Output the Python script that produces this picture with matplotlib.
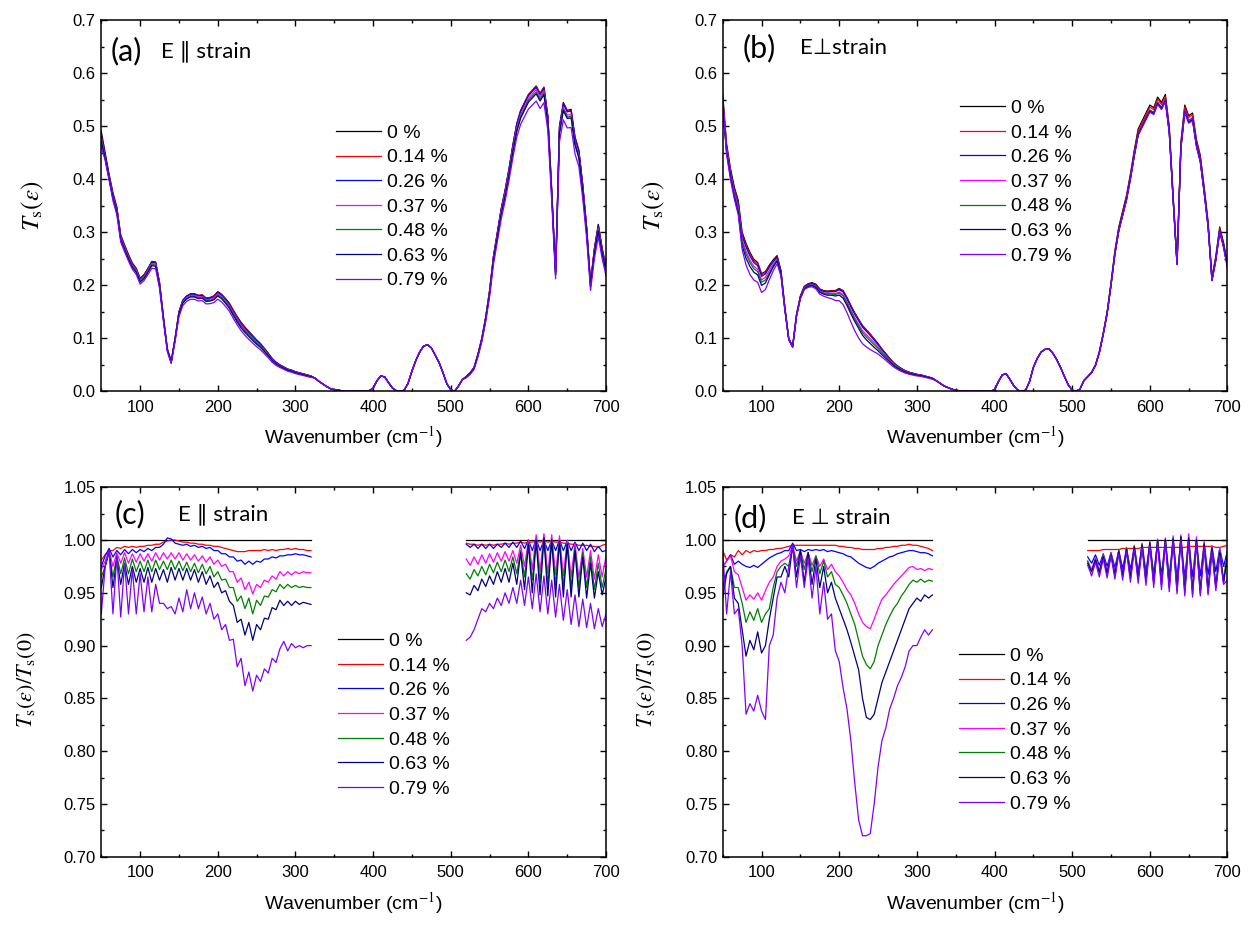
import numpy as np
import matplotlib.pyplot as plt
from matplotlib.ticker import MultipleLocator, FormatStrFormatter

plt.rcParams['font.family'] = ['Liberation Sans', 'DejaVu Sans']
plt.rcParams['mathtext.fontset'] = 'stix'

strains = ['0 %', '0.14 %', '0.26 %', '0.37 %', '0.48 %', '0.63 %', '0.79 %']
colors = ['#000000', '#ff0000', '#0000ff', '#ff00ff', '#008000', '#000080', '#8000ff']

# wavenumber grids (cm-1)
wn = np.arange(50, 705, 5)
wn_left = np.arange(50, 325, 5)
wn_right = np.arange(520, 705, 5)

# Ts(0), E || strain
t0_par = [
    0.490, 0.450, 0.410, 0.375, 0.348, 0.295, 0.276, 0.258, 0.242, 0.232,   # 50
    0.213, 0.220, 0.232, 0.245, 0.244, 0.205, 0.140, 0.080, 0.056, 0.100,   # 100
    0.150, 0.172, 0.180, 0.184, 0.184, 0.181, 0.182, 0.176, 0.177, 0.180,   # 150
    0.188, 0.183, 0.175, 0.166, 0.153, 0.141, 0.130, 0.121, 0.113, 0.105,   # 200
    0.097, 0.090, 0.081, 0.072, 0.062, 0.055, 0.050, 0.046, 0.042, 0.040,   # 250
    0.037, 0.035, 0.033, 0.031, 0.029, 0.025, 0.019, 0.014, 0.009, 0.005,   # 300
    0.003, 0.002, 0.001, 0.000, 0.000, 0.000, 0.000, 0.000, 0.000, 0.001,   # 350
    0.006, 0.020, 0.029, 0.027, 0.016, 0.006, 0.001, 0.000, 0.002, 0.015,   # 400
    0.038, 0.058, 0.074, 0.085, 0.088, 0.082, 0.068, 0.054, 0.035, 0.014,   # 450
    0.003, 0.000, 0.010, 0.022, 0.028, 0.035, 0.045, 0.070, 0.100, 0.140,   # 500
    0.190, 0.255, 0.300, 0.345, 0.380, 0.420, 0.465, 0.505, 0.530, 0.545,   # 550
    0.560, 0.568, 0.576, 0.562, 0.574, 0.520, 0.380, 0.225, 0.500, 0.545,   # 600
    0.530, 0.532, 0.480, 0.455, 0.390, 0.310, 0.205, 0.270, 0.315, 0.270,   # 650
    0.235,                                                                  # 700
]

# Ts(0), E perp strain
t0_perp = [
    0.560, 0.467, 0.420, 0.385, 0.360, 0.300, 0.279, 0.262, 0.249, 0.243,
    0.222, 0.226, 0.238, 0.248, 0.256, 0.228, 0.159, 0.100, 0.085, 0.145,
    0.180, 0.198, 0.203, 0.205, 0.202, 0.193, 0.190, 0.189, 0.190, 0.190,
    0.194, 0.190, 0.177, 0.162, 0.148, 0.136, 0.124, 0.116, 0.108, 0.099,
    0.090, 0.080, 0.071, 0.062, 0.054, 0.048, 0.043, 0.039, 0.036, 0.034,
    0.032, 0.031, 0.029, 0.027, 0.025, 0.020, 0.015, 0.010, 0.007, 0.004,
    0.002, 0.001, 0.000, 0.000, 0.000, 0.000, 0.000, 0.000, 0.000, 0.000,
    0.003, 0.018, 0.031, 0.033, 0.022, 0.010, 0.002, 0.000, 0.002, 0.018,
    0.045, 0.062, 0.074, 0.079, 0.080, 0.072, 0.060, 0.045, 0.028, 0.012,
    0.002, 0.000, 0.004, 0.020, 0.028, 0.036, 0.050, 0.075, 0.110, 0.150,
    0.205, 0.265, 0.310, 0.340, 0.370, 0.410, 0.455, 0.495, 0.510, 0.525,
    0.540, 0.535, 0.555, 0.545, 0.560, 0.500, 0.370, 0.245, 0.470, 0.540,
    0.520, 0.525, 0.475, 0.445, 0.385, 0.320, 0.215, 0.255, 0.310, 0.280,
    0.240,
]

# Ts(e)/Ts(0), E || strain, 50-320 cm-1
c_left_014 = [
    0.981, 0.986, 0.990, 0.990, 0.993, 0.992, 0.994, 0.993, 0.994, 0.993,
    0.994, 0.994, 0.995, 0.995, 0.996, 0.996, 0.998, 0.999, 1.000, 1.000,
    0.999, 0.998, 0.998, 0.997, 0.997, 0.996, 0.996, 0.995, 0.995, 0.994,
    0.994, 0.993, 0.992, 0.991, 0.990, 0.989, 0.989, 0.989, 0.990, 0.990,
    0.990, 0.990, 0.991, 0.990, 0.991, 0.990, 0.991, 0.991, 0.992, 0.991,
    0.992, 0.991, 0.991, 0.990, 0.990,
]
c_left_026 = [
    0.975, 0.985, 0.992, 0.984, 0.990, 0.986, 0.991, 0.987, 0.991, 0.988,
    0.991, 0.989, 0.992, 0.990, 0.993, 0.993, 0.996, 1.002, 1.001, 0.997,
    0.996, 0.995, 0.996, 0.994, 0.995, 0.993, 0.994, 0.992, 0.993, 0.990,
    0.990, 0.987, 0.987, 0.984, 0.984, 0.980, 0.981, 0.977, 0.980, 0.977,
    0.980, 0.979, 0.982, 0.982, 0.984, 0.983, 0.985, 0.985, 0.986, 0.986,
    0.987, 0.986, 0.986, 0.985, 0.984,
]
c_left_037 = [
    0.972, 0.980, 0.990, 0.975, 0.988, 0.978, 0.988, 0.978, 0.987, 0.979,
    0.987, 0.980, 0.987, 0.980, 0.988, 0.981, 0.988, 0.982, 0.988, 0.982,
    0.988, 0.981, 0.987, 0.981, 0.986, 0.980, 0.985, 0.979, 0.984, 0.977,
    0.981, 0.975, 0.977, 0.970, 0.970, 0.960, 0.964, 0.953, 0.960, 0.949,
    0.958, 0.955, 0.962, 0.960, 0.966, 0.963, 0.970, 0.966, 0.970, 0.967,
    0.970, 0.968, 0.970, 0.969, 0.969,
]
c_left_048 = [
    0.965, 0.975, 0.988, 0.965, 0.985, 0.968, 0.983, 0.968, 0.982, 0.970,
    0.980, 0.970, 0.981, 0.970, 0.981, 0.972, 0.980, 0.972, 0.981, 0.972,
    0.980, 0.971, 0.979, 0.970, 0.978, 0.969, 0.977, 0.968, 0.975, 0.965,
    0.970, 0.962, 0.963, 0.955, 0.955, 0.942, 0.947, 0.935, 0.945, 0.930,
    0.943, 0.938, 0.947, 0.946, 0.953, 0.951, 0.958, 0.954, 0.958, 0.955,
    0.957, 0.955, 0.956, 0.955, 0.955,
]
c_left_063 = [
    0.955, 0.975, 0.990, 0.955, 0.982, 0.958, 0.978, 0.958, 0.975, 0.960,
    0.973, 0.960, 0.974, 0.960, 0.973, 0.962, 0.972, 0.960, 0.974, 0.962,
    0.973, 0.962, 0.973, 0.962, 0.972, 0.960, 0.970, 0.958, 0.966, 0.955,
    0.960, 0.950, 0.952, 0.942, 0.938, 0.922, 0.925, 0.910, 0.922, 0.905,
    0.920, 0.915, 0.926, 0.925, 0.936, 0.934, 0.943, 0.938, 0.942, 0.938,
    0.942, 0.939, 0.941, 0.940, 0.939,
]
c_left_079 = [
    0.930, 0.975, 0.990, 0.930, 0.985, 0.927, 0.978, 0.930, 0.972, 0.930,
    0.968, 0.932, 0.965, 0.932, 0.958, 0.940, 0.940, 0.935, 0.937, 0.930,
    0.945, 0.932, 0.953, 0.935, 0.950, 0.935, 0.946, 0.930, 0.940, 0.925,
    0.930, 0.915, 0.920, 0.905, 0.906, 0.880, 0.888, 0.862, 0.875, 0.857,
    0.872, 0.866, 0.878, 0.874, 0.888, 0.884, 0.897, 0.904, 0.895, 0.902,
    0.898, 0.900, 0.898, 0.900, 0.900,
]

# Ts(e)/Ts(0), E || strain, 520-700 cm-1
c_right_014 = [
    0.997, 0.996, 0.996, 0.995, 0.996, 0.995, 0.996, 0.995, 0.996, 0.996,
    0.997, 0.996, 0.997, 0.997, 0.998, 0.997, 0.998, 0.998, 0.999, 0.998,
    0.999, 0.998, 0.999, 0.998, 0.998, 0.997, 0.997, 0.996, 0.996, 0.995,
    0.995, 0.995, 0.994, 0.994, 0.993, 0.995, 0.996,
]
c_right_026 = [
    0.996, 0.993, 0.996, 0.992, 0.996, 0.992, 0.996, 0.992, 0.996, 0.993,
    0.997, 0.993, 0.998, 0.993, 0.999, 0.992, 1.000, 0.990, 1.001, 0.990,
    1.000, 0.990, 1.000, 0.990, 1.000, 0.990, 0.999, 0.990, 0.998, 0.990,
    0.997, 0.990, 0.996, 0.989, 0.994, 0.989, 0.990,
]
c_right_037 = [
    0.982, 0.976, 0.984, 0.977, 0.986, 0.978, 0.987, 0.979, 0.988, 0.980,
    0.989, 0.980, 0.990, 0.978, 0.995, 0.975, 1.000, 0.972, 1.005, 0.970,
    1.006, 0.968, 1.005, 0.967, 1.004, 0.966, 1.000, 0.965, 0.997, 0.964,
    0.992, 0.965, 0.990, 0.963, 0.986, 0.965, 0.985,
]
c_right_048 = [
    0.968, 0.963, 0.972, 0.966, 0.975, 0.967, 0.977, 0.969, 0.979, 0.970,
    0.981, 0.970, 0.984, 0.968, 0.990, 0.965, 0.997, 0.962, 1.000, 0.960,
    1.002, 0.958, 1.001, 0.957, 0.999, 0.956, 0.997, 0.955, 0.993, 0.955,
    0.988, 0.955, 0.984, 0.953, 0.978, 0.955, 0.973,
]
c_right_063 = [
    0.950, 0.948, 0.957, 0.952, 0.963, 0.956, 0.966, 0.958, 0.970, 0.960,
    0.973, 0.960, 0.978, 0.958, 0.988, 0.953, 0.996, 0.950, 1.000, 0.948,
    1.002, 0.947, 1.000, 0.946, 0.999, 0.946, 0.996, 0.946, 0.990, 0.946,
    0.984, 0.945, 0.978, 0.945, 0.970, 0.948, 0.965,
]
c_right_079 = [
    0.905, 0.908, 0.915, 0.925, 0.935, 0.932, 0.940, 0.935, 0.945, 0.938,
    0.950, 0.940, 0.955, 0.940, 0.962, 0.938, 0.965, 0.935, 0.968, 0.932,
    0.966, 0.930, 0.962, 0.927, 0.958, 0.924, 0.953, 0.920, 0.948, 0.918,
    0.944, 0.917, 0.940, 0.916, 0.935, 0.918, 0.930,
]

# Ts(e)/Ts(0), E perp strain, 50-320 cm-1
d_left_014 = [
    0.990, 0.981, 0.986, 0.984, 0.990, 0.986, 0.990, 0.988, 0.990, 0.989,
    0.990, 0.990, 0.991, 0.991, 0.992, 0.992, 0.993, 0.994, 0.995, 0.995,
    0.995, 0.995, 0.995, 0.995, 0.995, 0.995, 0.995, 0.995, 0.995, 0.995,
    0.994, 0.994, 0.993, 0.993, 0.992, 0.992, 0.991, 0.991, 0.991, 0.991,
    0.992, 0.992, 0.993, 0.993, 0.994, 0.994, 0.995, 0.995, 0.996, 0.995,
    0.995, 0.994, 0.993, 0.992, 0.990,
]
d_left_026 = [
    0.975, 0.980, 0.986, 0.977, 0.980, 0.977, 0.975, 0.974, 0.976, 0.974,
    0.977, 0.980, 0.983, 0.985, 0.987, 0.988, 0.990, 0.990, 0.997, 0.990,
    0.991, 0.989, 0.991, 0.990, 0.991, 0.990, 0.991, 0.989, 0.990, 0.989,
    0.988, 0.987, 0.985, 0.984, 0.981, 0.978, 0.976, 0.974, 0.973, 0.975,
    0.978, 0.980, 0.982, 0.984, 0.985, 0.987, 0.988, 0.989, 0.990, 0.990,
    0.989, 0.988, 0.988, 0.987, 0.985,
]
d_left_037 = [
    0.975, 0.980, 0.985, 0.970, 0.967, 0.955, 0.943, 0.948, 0.944, 0.950,
    0.943, 0.952, 0.960, 0.965, 0.975, 0.980, 0.982, 0.985, 0.995, 0.980,
    0.990, 0.978, 0.988, 0.976, 0.985, 0.975, 0.982, 0.972, 0.977, 0.970,
    0.966, 0.960, 0.953, 0.948, 0.940, 0.930, 0.922, 0.918, 0.916, 0.925,
    0.935, 0.944, 0.948, 0.953, 0.958, 0.962, 0.966, 0.970, 0.974, 0.975,
    0.972, 0.973, 0.971, 0.973, 0.972,
]
d_left_048 = [
    0.955, 0.970, 0.975, 0.955, 0.955, 0.940, 0.922, 0.932, 0.924, 0.935,
    0.922, 0.930, 0.935, 0.955, 0.970, 0.975, 0.978, 0.975, 0.992, 0.975,
    0.990, 0.972, 0.988, 0.970, 0.985, 0.968, 0.980, 0.965, 0.970, 0.958,
    0.955, 0.948, 0.940, 0.930, 0.920, 0.905, 0.890, 0.882, 0.878, 0.885,
    0.900, 0.910, 0.920, 0.928, 0.935, 0.940, 0.947, 0.952, 0.958, 0.962,
    0.960, 0.963, 0.960, 0.962, 0.961,
]
d_left_063 = [
    0.945, 0.968, 0.975, 0.945, 0.940, 0.915, 0.890, 0.905, 0.896, 0.913,
    0.893, 0.900, 0.925, 0.945, 0.965, 0.965, 0.975, 0.965, 0.995, 0.965,
    0.990, 0.960, 0.988, 0.958, 0.982, 0.955, 0.975, 0.950, 0.960, 0.945,
    0.935, 0.925, 0.915, 0.903, 0.890, 0.877, 0.850, 0.832, 0.830, 0.835,
    0.850, 0.865, 0.875, 0.885, 0.895, 0.905, 0.915, 0.925, 0.935, 0.940,
    0.945, 0.942, 0.948, 0.945, 0.948,
]
d_left_079 = [
    0.990, 0.930, 0.970, 0.930, 0.935, 0.900, 0.835, 0.845, 0.838, 0.853,
    0.838, 0.830, 0.900, 0.910, 0.945, 0.960, 0.950, 0.975, 0.995, 0.955,
    0.985, 0.955, 0.983, 0.945, 0.975, 0.930, 0.960, 0.925, 0.930, 0.895,
    0.885, 0.860, 0.840, 0.810, 0.770, 0.735, 0.720, 0.720, 0.722, 0.750,
    0.785, 0.810, 0.822, 0.840, 0.850, 0.862, 0.870, 0.880, 0.895, 0.900,
    0.900, 0.908, 0.915, 0.910, 0.915,
]

# Ts(e)/Ts(0), E perp strain, 520-700 cm-1
d_right_014 = [
    0.990, 0.990, 0.990, 0.990, 0.991, 0.991, 0.991, 0.991, 0.991, 0.992,
    0.992, 0.992, 0.992, 0.992, 0.993, 0.993, 0.993, 0.993, 0.993, 0.993,
    0.993, 0.993, 0.993, 0.993, 0.993, 0.993, 0.994, 0.994, 0.994, 0.994,
    0.994, 0.994, 0.994, 0.993, 0.993, 0.994, 0.995,
]
d_right_026 = [
    0.984, 0.978, 0.986, 0.976, 0.987, 0.975, 0.988, 0.974, 0.990, 0.973,
    0.992, 0.972, 0.994, 0.970, 0.996, 0.970, 0.997, 0.968, 0.998, 0.967,
    0.999, 0.966, 1.000, 0.965, 1.000, 0.965, 1.000, 0.965, 0.999, 0.966,
    0.997, 0.967, 0.994, 0.970, 0.992, 0.975, 0.990,
]
d_right_037 = [
    0.980, 0.972, 0.983, 0.971, 0.986, 0.970, 0.988, 0.969, 0.990, 0.968,
    0.993, 0.966, 0.995, 0.965, 0.997, 0.963, 0.999, 0.962, 1.001, 0.960,
    1.002, 0.958, 1.004, 0.956, 1.005, 0.955, 1.006, 0.953, 1.003, 0.952,
    0.999, 0.952, 0.995, 0.955, 0.993, 0.958, 0.990,
]
d_right_048 = [
    0.980, 0.970, 0.982, 0.969, 0.985, 0.968, 0.987, 0.967, 0.990, 0.966,
    0.992, 0.965, 0.994, 0.964, 0.996, 0.962, 0.998, 0.961, 1.000, 0.959,
    1.001, 0.957, 1.002, 0.955, 1.003, 0.953, 1.002, 0.952, 1.000, 0.952,
    0.997, 0.953, 0.993, 0.956, 0.990, 0.962, 0.988,
]
d_right_063 = [
    0.978, 0.970, 0.981, 0.969, 0.984, 0.968, 0.986, 0.967, 0.989, 0.966,
    0.991, 0.964, 0.993, 0.963, 0.995, 0.961, 0.997, 0.959, 0.999, 0.957,
    1.000, 0.955, 1.001, 0.952, 1.003, 0.950, 1.002, 0.949, 1.000, 0.949,
    0.996, 0.950, 0.992, 0.955, 0.988, 0.960, 0.985,
]
d_right_079 = [
    0.976, 0.966, 0.979, 0.965, 0.982, 0.964, 0.985, 0.963, 0.987, 0.962,
    0.989, 0.960, 0.991, 0.959, 0.993, 0.957, 0.995, 0.955, 0.997, 0.953,
    0.998, 0.951, 0.999, 0.949, 1.000, 0.947, 0.999, 0.946, 0.997, 0.947,
    0.993, 0.948, 0.989, 0.952, 0.985, 0.958, 0.962,
]

c_left = [c_left_014, c_left_026, c_left_037, c_left_048, c_left_063, c_left_079]
c_right = [c_right_014, c_right_026, c_right_037, c_right_048, c_right_063, c_right_079]
d_left = [d_left_014, d_left_026, d_left_037, d_left_048, d_left_063, d_left_079]
d_right = [d_right_014, d_right_026, d_right_037, d_right_048, d_right_063, d_right_079]

assert len(t0_par) == len(wn) and len(t0_perp) == len(wn)
for lst in c_left + d_left:
    assert len(lst) == len(wn_left)
for lst in c_right + d_right:
    assert len(lst) == len(wn_right)


def smooth(r):
    # 3-point running mean, removes the fringes for the Ts(e) curves
    p = np.pad(np.asarray(r, dtype=float), 1, mode='edge')
    return 0.25 * p[:-2] + 0.5 * p[1:-1] + 0.25 * p[2:]


def strained(t0, left, right):
    r = np.ones(len(wn))
    r[:len(wn_left)] = smooth(left)
    r[-len(wn_right):] = smooth(right)
    return np.asarray(t0) * r


def style(ax, ylim, ymajor, yminor, yfmt):
    ax.set_xlim(50, 700)
    ax.set_ylim(*ylim)
    ax.xaxis.set_major_locator(MultipleLocator(100))
    ax.xaxis.set_minor_locator(MultipleLocator(50))
    ax.yaxis.set_major_locator(MultipleLocator(ymajor))
    ax.yaxis.set_minor_locator(MultipleLocator(yminor))
    ax.yaxis.set_major_formatter(FormatStrFormatter(yfmt))
    ax.tick_params(which='both', direction='in', top=True, right=True, width=1.0)
    ax.tick_params(which='major', length=4.5, labelsize=12)
    ax.tick_params(axis='x', which='major', pad=6)
    ax.tick_params(axis='y', which='major', pad=4)
    ax.tick_params(which='minor', length=2.5)
    for s in ax.spines.values():
        s.set_linewidth(1.1)
    ax.set_xlabel('Wavenumber (cm$^{-1}$)', fontsize=14, labelpad=7)


def panel_text(ax, tag, title, x_tag, x_title, y):
    ax.text(x_tag, y, tag, transform=ax.transAxes, fontsize=22, va='center',
            ha='left', family=['Lato', 'DejaVu Sans'])
    ax.text(x_title, y, title, transform=ax.transAxes, fontsize=16, va='center',
            ha='left', family=['Lato', 'DejaVu Sans'])


def legend(ax, x, y):
    ax.legend(loc='upper left', bbox_to_anchor=(x, y), frameon=False, fontsize=14,
              handlelength=2.3, handletextpad=0.3, labelspacing=0.36,
              borderpad=0, borderaxespad=0)


fig = plt.figure(figsize=(12.6, 9.25), dpi=100)
ax_a = fig.add_axes([0.0804, 0.577, 0.4006, 0.4011])
ax_b = fig.add_axes([0.5736, 0.577, 0.4006, 0.4011])
ax_c = fig.add_axes([0.0804, 0.0737, 0.4006, 0.3996])
ax_d = fig.add_axes([0.5736, 0.0737, 0.4006, 0.3996])

# (a), (b): transmission spectra
for ax, t0, left, right in [(ax_a, t0_par, c_left, c_right), (ax_b, t0_perp, d_left, d_right)]:
    ax.plot(wn, t0, color=colors[0], lw=0.9, label=strains[0])
    for k in range(6):
        ax.plot(wn, strained(t0, left[k], right[k]), color=colors[k + 1], lw=0.9,
                label=strains[k + 1])
    style(ax, (0, 0.7), 0.1, 0.05, '%.1f')
    ax.set_ylabel(r'$T_{\mathrm{s}}(\varepsilon)$', fontsize=18)

# (c), (d): ratio spectra
for ax, left, right in [(ax_c, c_left, c_right), (ax_d, d_left, d_right)]:
    ax.plot(wn_left, np.ones(len(wn_left)), color=colors[0], lw=0.9, label=strains[0])
    ax.plot(wn_right, np.ones(len(wn_right)), color=colors[0], lw=0.9)
    for k in range(6):
        ax.plot(wn_left, left[k], color=colors[k + 1], lw=0.9,
                solid_joinstyle='round', label=strains[k + 1])
        ax.plot(wn_right, right[k], color=colors[k + 1], lw=0.9,
                solid_joinstyle='round')
    style(ax, (0.7, 1.05), 0.05, 0.025, '%.2f')
    ax.set_ylabel(r'$T_{\mathrm{s}}(\varepsilon)/T_{\mathrm{s}}(0)$', fontsize=16)

ax_a.yaxis.set_label_coords(-0.11, 0.5)
ax_b.yaxis.set_label_coords(-0.11, 0.5)
ax_c.yaxis.set_label_coords(-0.125, 0.48)
ax_d.yaxis.set_label_coords(-0.128, 0.48)

panel_text(ax_a, '(a)', 'E \u2225 strain', 0.018, 0.119, 0.918)
panel_text(ax_b, '(b)', 'E\u22a5strain', 0.04, 0.154, 0.925)
panel_text(ax_c, '(c)', 'E \u2225 strain', 0.026, 0.151, 0.928)
panel_text(ax_d, '(d)', 'E \u22a5 strain', 0.022, 0.138, 0.916)

legend(ax_a, 0.465, 0.72)
legend(ax_b, 0.47, 0.787)
legend(ax_c, 0.469, 0.607)
legend(ax_d, 0.469, 0.567)

fig.savefig('out.png', dpi=100)
